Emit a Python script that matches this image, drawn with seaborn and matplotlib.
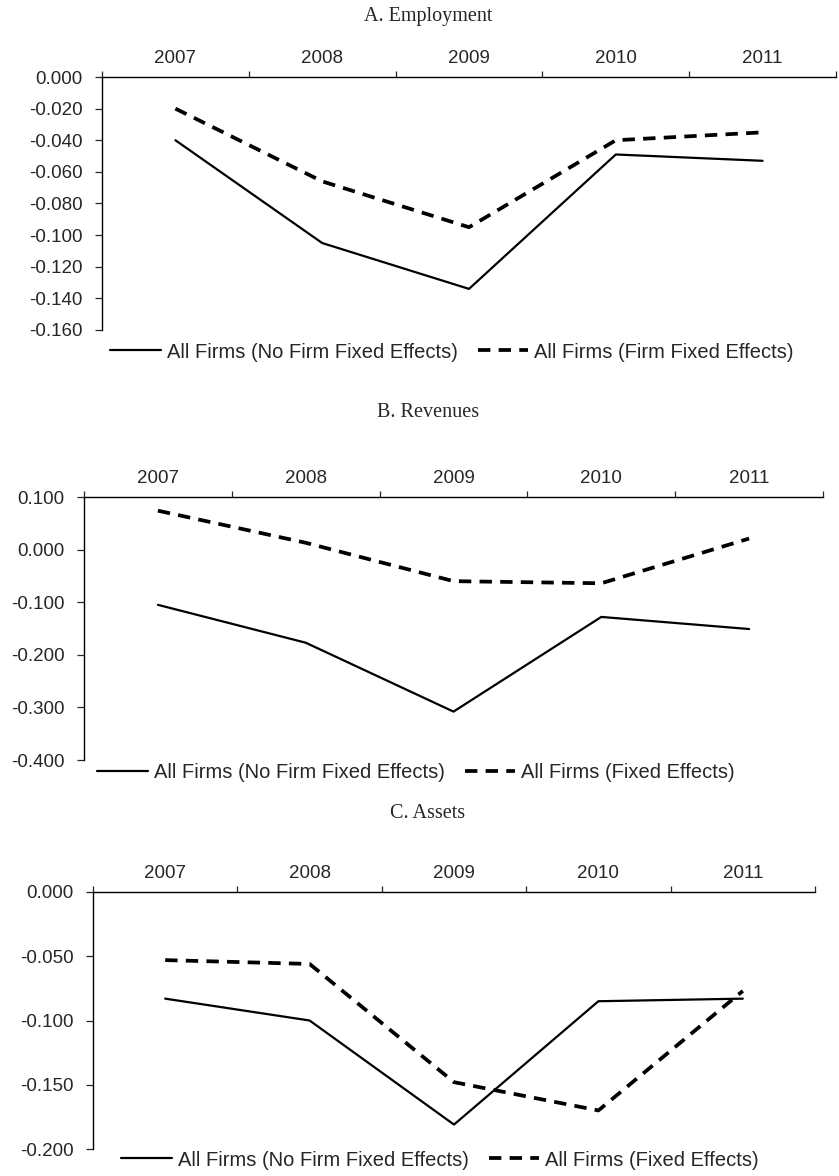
import numpy as np
import pandas as pd
import matplotlib
matplotlib.use("Agg")
import matplotlib.pyplot as plt
import seaborn as sns

# Data
years = ["2007", "2008", "2009", "2010", "2011"]

emp_no_fe = [-0.040, -0.105, -0.134, -0.049, -0.053]
emp_fe = [-0.020, -0.066, -0.095, -0.040, -0.035]

rev_no_fe = [-0.105, -0.177, -0.308, -0.128, -0.151]
rev_fe = [0.074, 0.013, -0.060, -0.064, 0.021]

ast_no_fe = [-0.083, -0.100, -0.181, -0.085, -0.083]
ast_fe = [-0.053, -0.056, -0.148, -0.170, -0.077]

titles = ["A. Employment", "B. Revenues", "C. Assets"]
label_no_fe = "All Firms (No Firm Fixed Effects)"
labels_fe = ["All Firms (Firm Fixed Effects)", "All Firms (Fixed Effects)",
             "All Firms (Fixed Effects)"]

sns.set_style("white")
plt.rcParams["font.family"] = ["Liberation Sans", "DejaVu Sans"]
plt.rcParams["axes.unicode_minus"] = False

W, H = 839, 1176
fig = plt.figure(figsize=(W / 100, H / 100), dpi=100)


def px_axes(left, right, top, bottom):
    return fig.add_axes([left / W, 1 - bottom / H, (right - left) / W, (bottom - top) / H])


def fmt(v, _):
    v = round(v, 3)
    if v == 0:
        v = 0.0
    return f"{v:.3f}"


panels = [
    dict(box=(102, 836, 77, 330), ylim=(-0.16, 0.0), step=0.02,
         no_fe=emp_no_fe, fe=emp_fe, title_y=17, leg=(452, 352)),
    dict(box=(84, 823, 497, 760), ylim=(-0.4, 0.1), step=0.1,
         no_fe=rev_no_fe, fe=rev_fe, title_y=412, leg=(416, 773)),
    dict(box=(93, 815, 892, 1149), ylim=(-0.2, 0.0), step=0.05,
         no_fe=ast_no_fe, fe=ast_fe, title_y=813, leg=(440, 1160)),
]

pos = np.arange(len(years))
fs = 13.5

for i, p in enumerate(panels):
    ax = px_axes(*p["box"])
    sns.lineplot(x=pos, y=p["no_fe"], ax=ax, color="black", linewidth=1.6,
                 label=label_no_fe)
    sns.lineplot(x=pos, y=p["fe"], ax=ax, color="black", linewidth=2.7,
                 linestyle=(0, (3.3, 2.2)), label=labels_fe[i])

    ax.set_xlim(-0.5, len(years) - 0.5)
    ax.set_ylim(*p["ylim"])
    ax.set_yticks(np.round(np.arange(p["ylim"][0], p["ylim"][1] + 1e-9, p["step"]), 3))
    ax.yaxis.set_major_formatter(matplotlib.ticker.FuncFormatter(fmt))

    ax.xaxis.tick_top()
    ax.set_xticks(pos)
    ax.set_xticklabels(years)
    ax.set_xticks(np.arange(-0.5, len(years), 1.0), minor=True)
    ax.tick_params(axis="x", which="major", length=0, pad=7, labelsize=fs)
    ax.tick_params(axis="x", which="minor", length=4.5, width=0.9, top=True, bottom=False)
    ax.tick_params(axis="y", length=5, width=0.9, pad=9, labelsize=fs, left=True)

    for s in ["bottom", "right"]:
        ax.spines[s].set_visible(False)
    for s in ["top", "left"]:
        ax.spines[s].set_color("black")
        ax.spines[s].set_linewidth(1.0)
    ax.set_xlabel("")
    ax.set_ylabel("")

    ax.legend(loc="center", bbox_to_anchor=(p["leg"][0] / W, 1 - p["leg"][1] / H),
              bbox_transform=fig.transFigure, ncol=2, frameon=False,
              fontsize=14.5, handlelength=2.5, handletextpad=0.3,
              columnspacing=1.0, borderaxespad=0)

    fig.text(428 / W, 1 - p["title_y"] / H, titles[i], ha="center", va="center",
             fontsize=14.5, family=["Liberation Serif", "DejaVu Serif"])

fig.savefig("out.png", dpi=100)
